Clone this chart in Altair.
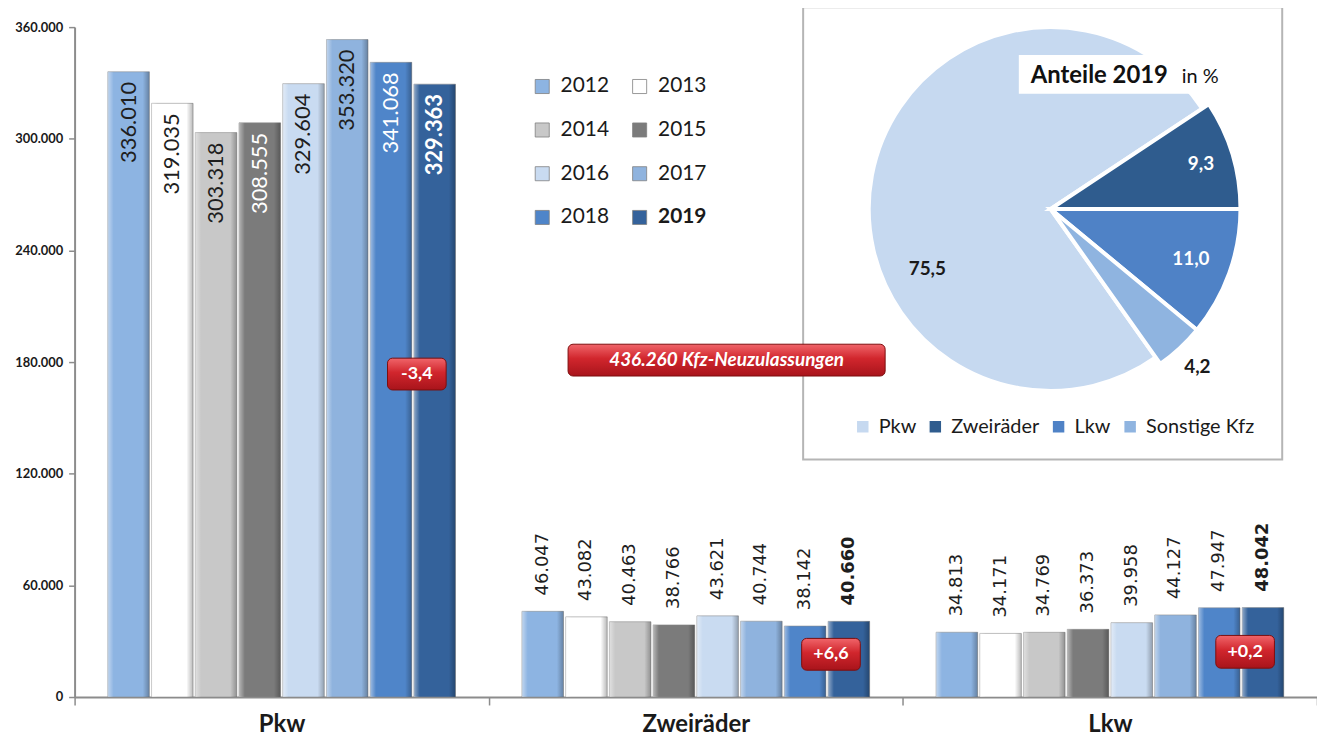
import math
import altair as alt
import pandas as pd

# ---------------- data ----------------
cats = ["Pkw", "Zweiräder", "Lkw"]
years = ["2012", "2013", "2014", "2015", "2016", "2017", "2018", "2019"]
pkw = [336010, 319035, 303318, 308555, 329604, 353320, 341068, 329363]
zwei = [46047, 43082, 40463, 38766, 43621, 40744, 38142, 40660]
lkw = [34813, 34171, 34769, 36373, 39958, 44127, 47947, 48042]

year_colors = ["#8db4e2", "#ffffff", "#c8c8c8", "#7b7b7b", "#c9dbf1", "#8fb3de", "#4f85c9", "#34629b"]
inside_text_colors = ["#1e1e1e", "#1e1e1e", "#1e1e1e", "#ffffff", "#1e1e1e", "#1e1e1e", "#ffffff", "#ffffff"]

y_ticks = [0, 60000, 120000, 180000, 240000, 300000, 360000]

badge_cats = ["Pkw", "Zweiräder", "Lkw"]
badge_text = ["-3,4", "+6,6", "+0,2"]
badge_lo = [165000, 14400, 15500]
badge_hi = [182100, 31500, 33100]

total_cat = ["Zweiräder"]
total_text = ["436.260 Kfz-Neuzulassungen"]
total_lo = [172500]
total_hi = [189600]

pie_parts = ["Pkw", "Zweiräder", "Lkw", "Sonstige Kfz"]
pie_shares = [75.5, 9.3, 11.0, 4.2]
pie_labels = ["75,5", "9,3", "11,0", "4,2"]
pie_colors = ["#c6d9f0", "#2f5c8e", "#4f82c6", "#8fb4e0"]
pie_order = [4, 1, 2, 3]
pie_outer = [183, 191, 191, 191]          # pulled-out slices reach further
pie_label_colors = ["#1a1a1a", "#ffffff", "#ffffff", "#1a1a1a"]
pie_label_radius = [138, 158, 150, 217]
pie_label_shift = [-36.6, 0, 0, 0]   # degrees, label turned away from slice middle

# ---------------- tables ----------------
def fmt(v):
    return f"{v:,}".replace(",", ".")

rows = []
for c, vals in zip(cats, [pkw, zwei, lkw]):
    for i, (y, v) in enumerate(zip(years, vals)):
        rows.append({
            "cat": c, "year": y, "value": v, "label": fmt(v),
            "inside": c == "Pkw", "tcolor": inside_text_colors[i],
            "bold": y == "2019",
        })
df = pd.DataFrame(rows)

badge_df = pd.DataFrame({
    "cat": badge_cats, "text": badge_text, "lo": badge_lo, "hi": badge_hi,
    "mid": [(a + b) / 2 for a, b in zip(badge_lo, badge_hi)],
})
total_df = pd.DataFrame({
    "cat": total_cat, "text": total_text, "lo": total_lo, "hi": total_hi,
    "mid": [(a + b) / 2 for a, b in zip(total_lo, total_hi)],
})
pie_df = pd.DataFrame({
    "part": pie_parts, "share": pie_shares, "ord": pie_order, "lab": pie_labels,
    "orad": pie_outer, "lcolor": pie_label_colors, "rad": pie_label_radius,
    "shift": pie_label_shift,
})
one = pd.DataFrame({"a": [0]})

# ---------------- encodings ----------------
FONT = "Lato"
x_scale = alt.Scale(domain=cats, paddingInner=0, paddingOuter=0)
x_axis = alt.Axis(title=None, labelAngle=0, labelFontSize=24, labelFont=FONT,
                  labelFontWeight="bold", labelColor="#1a1a1a", tickBand="extent",
                  tickSize=8, tickColor="#8c8c8c", tickWidth=1.5,
                  domainColor="#8c8c8c", domainWidth=2, labelPadding=8)
y_scale = alt.Scale(domain=[0, 360000], nice=False, zero=True)
y_axis = alt.Axis(title=None, values=y_ticks, grid=False,
                  labelExpr="replace(format(datum.value, ','), ',', '.')",
                  labelFontSize=13, labelFont=FONT, labelFontWeight="bold",
                  labelColor="#1a1a1a", tickSize=6, tickColor="#8c8c8c",
                  tickWidth=1.5, domainColor="#8c8c8c", domainWidth=2, labelPadding=6)

def X():
    return alt.X("cat:N", sort=cats, scale=x_scale, axis=x_axis)

def Y(field):
    return alt.Y(f"{field}:Q", scale=y_scale, axis=y_axis)

xoff = alt.XOffset("year:N", sort=years,
                   scale=alt.Scale(domain=years, paddingInner=0.05, paddingOuter=0.76))

base = alt.Chart(df).encode(x=X(), xOffset=xoff, y=Y("value"))

bars = base.mark_bar(stroke="#8a8a8a", strokeWidth=0.8, strokeOpacity=0.7).encode(
    color=alt.Color("year:N", sort=years,
                    scale=alt.Scale(domain=years, range=year_colors),
                    legend=alt.Legend(title=None, orient="none", legendX=460, legendY=49,
                                      columns=2, direction="horizontal",
                                      symbolType="square", symbolSize=200,
                                      labelFontSize=21, labelFont=FONT, labelColor="#1a1a1a",
                                      columnPadding=20, rowPadding=22, labelOffset=8,
                                      symbolStrokeColor="#7f7f7f", symbolStrokeWidth=0.8,
                                      padding=0,
                                      labelFontWeight=alt.ExprRef("datum.label == '2019' ? 'bold' : 'normal'")))
)

shade = base.mark_bar(fill=alt.Gradient(
    gradient="linear", x1=0, x2=1, y1=0, y2=0,
    stops=[alt.GradientStop(color="rgba(255,255,255,0.45)", offset=0),
           alt.GradientStop(color="rgba(255,255,255,0)", offset=0.14),
           alt.GradientStop(color="rgba(0,0,0,0)", offset=0.84),
           alt.GradientStop(color="rgba(0,0,0,0.28)", offset=1)]))

inside_norm = base.transform_filter("datum.inside && !datum.bold").mark_text(
    angle=270, align="right", baseline="middle", dx=-10, font=FONT, fontSize=22
).encode(text="label:N", color=alt.Color("tcolor:N", scale=None))
inside_bold = base.transform_filter("datum.inside && datum.bold").mark_text(
    angle=270, align="right", baseline="middle", dx=-10, font=FONT, fontSize=22, fontWeight="bold"
).encode(text="label:N", color=alt.Color("tcolor:N", scale=None))
outside_norm = base.transform_filter("!datum.inside && !datum.bold").mark_text(
    angle=270, align="left", baseline="middle", dx=16, font="DejaVu Sans", fontSize=18,
    color="#1e1e1e").encode(text="label:N")
outside_bold = base.transform_filter("!datum.inside && datum.bold").mark_text(
    angle=270, align="left", baseline="middle", dx=16, font="DejaVu Sans", fontSize=18,
    fontWeight="bold", color="#1e1e1e").encode(text="label:N")

red_grad = alt.Gradient(
    gradient="linear", x1=0, x2=0, y1=0, y2=1,
    stops=[alt.GradientStop(color="#f0656a", offset=0),
           alt.GradientStop(color="#d1262d", offset=0.45),
           alt.GradientStop(color="#a8141b", offset=1)])

badges = alt.Chart(badge_df).mark_bar(width=59, cornerRadius=5, xOffset=136, fill=red_grad,
                                      stroke="#7d0e0e", strokeWidth=1).encode(
    x=X(), y=Y("lo"), y2="hi:Q")
badge_txt = alt.Chart(badge_df).mark_text(dx=136, font=FONT, fontSize=18, fontWeight="bold",
                                          color="white", baseline="middle").encode(
    x=X(), y=Y("mid"), text="text:N")

total = alt.Chart(total_df).mark_bar(width=319, cornerRadius=5, xOffset=31, fill=red_grad,
                                     stroke="#7d0e0e", strokeWidth=1).encode(
    x=X(), y=Y("lo"), y2="hi:Q")
total_txt = alt.Chart(total_df).mark_text(dx=31, font=FONT, fontSize=19, fontWeight="bold",
                                          fontStyle="italic", color="white",
                                          baseline="middle").encode(
    x=X(), y=Y("mid"), text="text:N")

# ---------------- pie inset ----------------
box = alt.Chart(one).mark_rect(fill="white", stroke="#b5b5b5", strokeWidth=2).encode(
    x=alt.value(733), x2=alt.value(1215), y=alt.value(-20), y2=alt.value(435))

start = 0.986
theta_scale = alt.Scale(domain=[0, 100], range=[start, start + 2 * math.pi])

pie_base = alt.Chart(pie_df).transform_window(
    cum="sum(share)", sort=[alt.SortField("ord")]
).transform_calculate(
    t0="datum.cum - datum.share", mid="datum.cum - datum.share / 2 + datum.shift / 3.6"
)

pie = pie_base.mark_arc(stroke="white", strokeWidth=4).encode(
    theta=alt.Theta("t0:Q", scale=theta_scale, stack=False), theta2="cum:Q",
    radius=alt.Radius("orad:Q", scale=None),
    color=alt.Color("part:N", sort=pie_parts, scale=alt.Scale(domain=pie_parts, range=pie_colors),
                    legend=alt.Legend(title=None, orient="none", legendX=783, legendY=392,
                                      direction="horizontal", symbolType="square",
                                      symbolSize=170, labelFontSize=20, labelFont=FONT,
                                      labelColor="#1a1a1a", columnPadding=9, labelOffset=6,
                                      padding=0)),
    x=alt.value(982), y=alt.value(183))

pie_lab = pie_base.mark_text(font=FONT, fontSize=19, fontWeight="bold").encode(
    theta=alt.Theta("mid:Q", scale=theta_scale, stack=False),
    radius=alt.Radius("rad:Q", scale=None),
    text="lab:N", color=alt.Color("lcolor:N", scale=None),
    x=alt.value(982), y=alt.value(183))

title_box = alt.Chart(one).mark_rect(fill="white").encode(
    x=alt.value(950), x2=alt.value(1152), y=alt.value(28), y2=alt.value(67))
title1 = alt.Chart(one).mark_text(text="Anteile 2019", font=FONT, fontSize=24, fontWeight="bold",
                                  align="left", baseline="alphabetic", color="#111").encode(
    x=alt.value(962), y=alt.value(56))
title2 = alt.Chart(one).mark_text(text="in %", font=FONT, fontSize=20,
                                  align="right", baseline="alphabetic", color="#111").encode(
    x=alt.value(1151), y=alt.value(56))

chart = alt.layer(
    bars, shade, inside_norm, inside_bold, outside_norm, outside_bold,
    box, pie, pie_lab, title_box, title1, title2,
    badges, badge_txt, total, total_txt,
).resolve_scale(color="independent").properties(
    width=1250, height=674,
    autosize=alt.AutoSizeParams(type="none"),
    padding={"left": 67, "top": 17, "right": 0, "bottom": 40},
).configure_view(strokeWidth=0)

chart.save("out.html", embed_options={"renderer": "svg", "actions": False})
